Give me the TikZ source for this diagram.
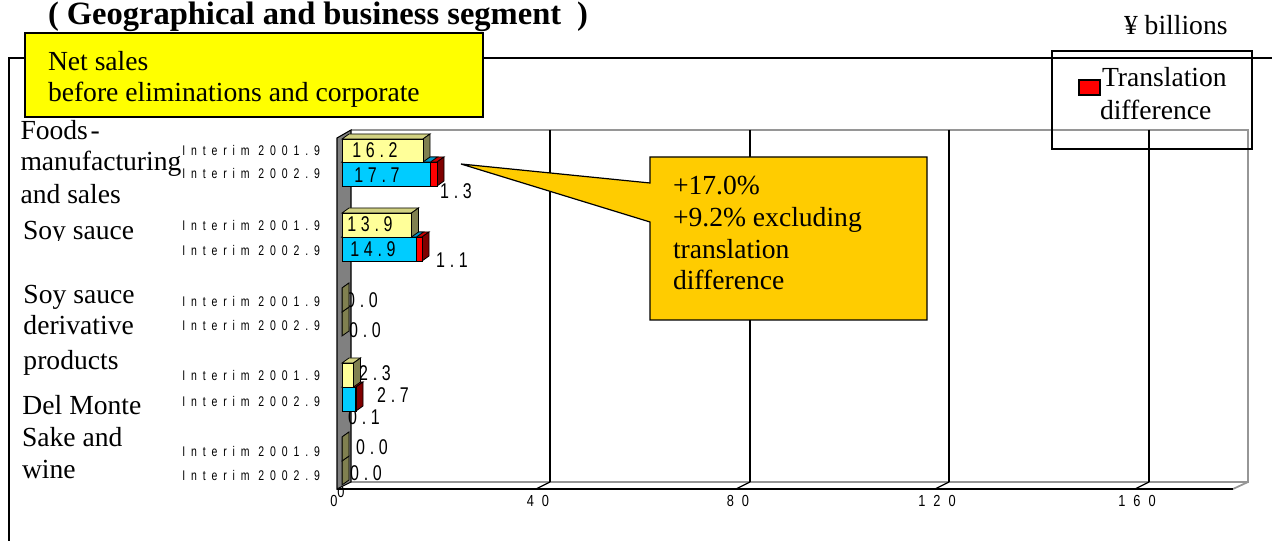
\documentclass[tikz,border=0pt]{standalone}
\usepackage{fontspec}
\setmainfont{Liberation Serif}
\newfontfamily\intfont[LetterSpace=42,FakeStretch=0.75]{Liberation Sans}
\newfontfamily\valfont[LetterSpace=22,FakeStretch=0.75]{Liberation Sans}
\newfontfamily\tickfont[LetterSpace=50,FakeStretch=0.8]{Liberation Sans}
\definecolor{barY}{RGB}{255,255,153}
\definecolor{barYtop}{RGB}{210,210,130}
\definecolor{barYside}{RGB}{128,128,80}
\definecolor{barC}{RGB}{0,204,255}
\definecolor{barCtop}{RGB}{0,150,200}
\definecolor{barR}{RGB}{255,0,0}
\definecolor{barRtop}{RGB}{200,0,0}
\definecolor{barRside}{RGB}{128,0,0}
\definecolor{wallgray}{RGB}{128,128,128}
\definecolor{backgray}{RGB}{150,150,150}
\definecolor{callcol}{RGB}{255,204,0}
\definecolor{netyellow}{RGB}{255,255,0}
\newcommand\cubebar[7]{%
 \filldraw[barface,fill=#6] (#1,#3) -- ({#1+7},{#3-5}) -- ({#2+7},{#3-5}) -- (#2,#3) -- cycle;
 \filldraw[barface,fill=#7] (#2,#3) -- ({#2+7},{#3-5}) -- ({#2+7},{#4-5}) -- (#2,#4) -- cycle;
 \filldraw[barface,fill=#5] (#1,#3) rectangle (#2,#4);
}
\tikzset{
 frame/.style={line width=1.5pt},
 backline/.style={draw=backgray, line width=1.3pt},
 gridl/.style={line width=0.9pt},
 barface/.style={draw=black, line width=0.6pt},
 cat/.style={anchor=base west, font=\fontsize{20.7pt}{24pt}\selectfont},
 interim/.style={anchor=east, font=\intfont\fontsize{10.5pt}{11pt}\selectfont},
 val/.style={font=\valfont\fontsize{16pt}{17pt}\selectfont},
 tick/.style={font=\tickfont\fontsize{12pt}{13pt}\selectfont},
 txt/.style={anchor=base west, font=\fontsize{20.7pt}{24pt}\selectfont},
}
\begin{document}
\begin{tikzpicture}[x=0.75pt,y=-0.75pt, every node/.style={inner sep=0pt,outer sep=0pt}]
\useasboundingbox (0,0) rectangle (1272,541);
% outer frame
\draw[frame] (9,541) -- (9,58) -- (1272,58);
% back wall, gridlines, floor
\draw[backline] (351,130) -- (1248,130) -- (1248,482) -- (351,482);
\foreach \x in {550,750,949,1149} {
  \draw[gridl] (\x,130) -- (\x,482);
  \draw[gridl] ({\x-14},489) -- (\x,482);
}
\draw[backline] (1233,489) -- (1248,482);
\node[tick] (z2) at (341,492) {0};
\draw[frame] (337,489) -- (1233,489);
% left wall
\filldraw[fill=wallgray, draw=black, line width=0.8pt] (337,138) -- (351,130) -- (351,482) -- (337,489) -- cycle;
% outside value labels
\node[val] (v13) at (456,191) {1.3};
\node[val] (v11) at (452,260) {1.1};
\node[val] (v00a) at (362,300) {0.0};
\node[val] (v00b) at (365,330) {0.0};
\node[val] (v23) at (375,373) {2.3};
\node[val] (v27) at (393,395) {2.7};
\node[val] (v01) at (364,417) {0.1};
\node[val] (v00c) at (372,447) {0.0};
\node[val] (v00d) at (366,473) {0.0};
% Foods bars
\cubebar{342}{437}{162}{186}{barR}{barRtop}{barRside}
\filldraw[barface,fill=barCtop] (342,162) -- (349,157) -- (437.5,157) -- (430.5,162) -- cycle;
\filldraw[barface,fill=barC] (342,162) rectangle (430.5,186);
\cubebar{342}{423}{139}{162}{barY}{barYtop}{barYside}
% Soy sauce bars
\cubebar{342}{422}{237}{261}{barR}{barRtop}{barRside}
\filldraw[barface,fill=barCtop] (342,237) -- (349,232) -- (423.5,232) -- (416.5,237) -- cycle;
\filldraw[barface,fill=barC] (342,237) rectangle (416.5,261);
\cubebar{342}{411.5}{213}{237}{barY}{barYtop}{barYside}
% derivative bars
\cubebar{342}{342}{312}{336}{barY}{barYtop}{barYside}
\cubebar{342}{342}{288}{312}{barY}{barYtop}{barYside}
% Del Monte bars
\cubebar{342}{356}{387}{411}{barR}{barRtop}{barRside}
\filldraw[barface,fill=barC] (342,387) rectangle (355.5,411);
\cubebar{342}{353.5}{363}{387}{barY}{barYtop}{barYside}
% Sake bars
\cubebar{342}{342}{461}{485}{barY}{barYtop}{barYside}
\cubebar{342}{342}{437}{461}{barY}{barYtop}{barYside}
% inside value labels
\node[val] (v162) at (375,150) {16.2};
\node[val] (v177) at (377,175) {17.7};
\node[val] (v139) at (370,224) {13.9};
\node[val] (v149) at (373,249) {14.9};
% interim labels
\node[interim] (i1a) at (320,151) {Interim 2001.9};
\node[interim] (i1b) at (320,174) {Interim 2002.9};
\node[interim] (i2a) at (320,225) {Interim 2001.9};
\node[interim] (i2b) at (320,250) {Interim 2002.9};
\node[interim] (i3a) at (320,301.5) {Interim 2001.9};
\node[interim] (i3b) at (320,325.5) {Interim 2002.9};
\node[interim] (i4a) at (320,375.5) {Interim 2001.9};
\node[interim] (i4b) at (320,401) {Interim 2002.9};
\node[interim] (i5a) at (320,451.5) {Interim 2001.9};
\node[interim] (i5b) at (320,475) {Interim 2002.9};
% category labels
\node[cat] (c1a) at (20.5,140) {Foods\kern2pt-};
\node[cat] (c1b) at (20.5,171) {manufacturing};
\node[cat] (c1c) at (20.5,204) {and sales};
\begin{scope}
\clip (0,210) rectangle (300,241);
\node[cat] (c2) at (23,240) {Soy sauce};
\end{scope}
\node[cat] (c3a) at (23.5,303.5) {Soy sauce};
\node[cat] (c3b) at (23.5,335) {derivative};
\node[cat] (c3c) at (23.5,369.5) {products};
\node[cat] (c4) at (22.5,415) {Del Monte};
\node[cat] (c5a) at (22,446.5) {Sake and};
\node[cat] (c5b) at (22,478.5) {wine};
% tick labels
\node[tick] (t0) at (334,501) {0};
\node[tick] (t40) at (538,501) {40};
\node[tick] (t80) at (738,501) {80};
\node[tick] (t120) at (937,501) {120};
\node[tick] (t160) at (1137,501) {160};
% callout
\coordinate (tip) at (461,164);
\filldraw[fill=callcol, draw=black, line width=0.9pt] (650,157) -- (927,157) -- (927,320) -- (650,320) -- (650,222) -- (tip) -- (650,183) -- cycle;
\node[txt] (k1) at (673,195) {+17.0\%};
\node[txt] (k2) at (673,227) {+9.2\% excluding};
\node[txt] (k3) at (673,258.5) {translation};
\node[txt] (k4) at (673,290) {difference};
% net sales box
\filldraw[fill=netyellow, draw=black, line width=0.9pt] (25,33) rectangle (483,117);
\node[txt] (n1) at (48,71) {Net sales};
\node[txt] (n2) at (48,102) {before eliminations and corporate};
% legend
\draw[line width=1.2pt] (1052,51) rectangle (1252,149);
\filldraw[fill=barR, draw=black, line width=0.9pt] (1079,80) rectangle (1100,95);
\node[txt] (l1) at (1102,87) {Translation};
\node[txt] (l2) at (1100,120) {difference};
% title and unit
\node[anchor=base west, font=\bfseries\fontsize{24.4pt}{27pt}\selectfont] (title) at (48,25) {(\hspace{6pt}Geographical and business segment\hspace{12pt})};
\node[txt] (unit) at (1124,35) {¥ billions};
\end{tikzpicture}
\end{document}
